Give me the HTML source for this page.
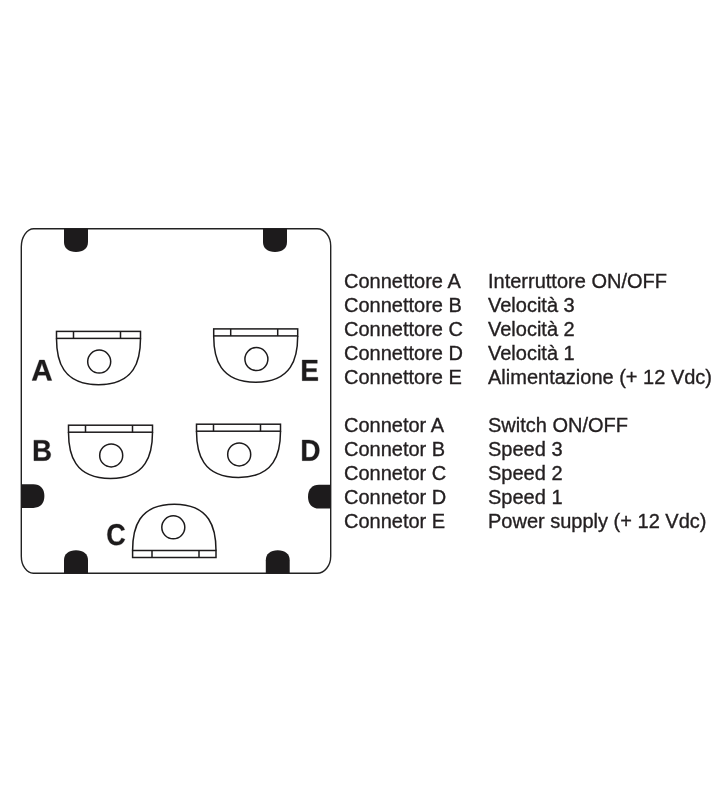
<!DOCTYPE html>
<html><head><meta charset="utf-8"><style>
html,body{margin:0;padding:0;background:#fff;width:728px;height:800px;overflow:hidden}
svg{display:block;will-change:transform}
</style></head><body>
<svg width="728" height="800" viewBox="0 0 728 800">
<path d="M21.3 246.8A12.5 18 0 0 1 33.8 228.8H317.09999999999997A13.6 17 0 0 1 330.7 245.8V556.2A13.6 17 0 0 1 317.09999999999997 573.2H33.3A12 17 0 0 1 21.3 556.2Z" fill="none" stroke="#222" stroke-width="1.4"/>
<g fill="#1d1b1c"><path d="M64 228.8V242C64 248.20 68.56 252 76.0 252C83.44 252 88 248.20 88 242V228.8Z"/><path d="M263 228.8V242C263 248.20 267.56 252 275.0 252C282.44 252 287 248.20 287 242V228.8Z"/><path d="M64 573.2V560.2C64 554.00 68.56 550.2 76.0 550.2C83.44 550.2 88 554.00 88 560.2V573.2Z"/><path d="M265.8 573.2V560.3C265.8 554.10 270.34 550.3 277.75 550.3C285.16 550.3 289.7 554.10 289.7 560.3V573.2Z"/><path d="M21.3 484.3H33.4C40.22 484.3 44.4 488.78 44.4 496.1C44.4 503.42 40.22 507.9 33.4 507.9H21.3Z"/><path d="M330.7 484.8H319C312.18 484.8 308 489.30 308 496.65C308 504.00 312.18 508.5 319 508.5H330.7Z"/></g>
<g fill="none" stroke="#1d1b1c" stroke-width="1.5"><rect x="56.5" y="331.4" width="84" height="7"/>
<path d="M73.5 331.4V338.4M120.5 331.4V338.4"/>
<path d="M56.5 338.4C56.5 360.62 62.38 384.7 98.5 384.7S140.5 360.62 140.5 338.4"/>
<circle cx="99.20" cy="361.60" r="11.5"/>
<rect x="213.7" y="328.9" width="84" height="7"/>
<path d="M230.7 328.9V335.9M277.7 328.9V335.9"/>
<path d="M213.7 335.9C213.7 358.12 219.58 382.2 255.7 382.2S297.7 358.12 297.7 335.9"/>
<circle cx="256.40" cy="359.10" r="11.5"/>
<rect x="68.5" y="425.2" width="84" height="7"/>
<path d="M85.5 425.2V432.2M132.5 425.2V432.2"/>
<path d="M68.5 432.2C68.5 454.42 74.38 478.5 110.5 478.5S152.5 454.42 152.5 432.2"/>
<circle cx="111.20" cy="455.40" r="11.5"/>
<rect x="196.5" y="424.2" width="84" height="7"/>
<path d="M213.5 424.2V431.2M260.5 424.2V431.2"/>
<path d="M196.5 431.2C196.5 453.42 202.38 477.5 238.5 477.5S280.5 453.42 280.5 431.2"/>
<circle cx="239.20" cy="454.40" r="11.5"/>
<rect x="132.6" y="550.5" width="83.4" height="7"/>
<path d="M199.0 557.5V550.5M152.0 557.5V550.5"/>
<path d="M132.6 550.5C132.6 528.28 138.44 504.2 174.3 504.2S216.0 528.28 216.0 550.5"/>
<circle cx="173.30" cy="527.30" r="11.5"/></g>
<g fill="#1d1b1c" stroke="#1d1b1c" stroke-width="0.3" vector-effect="non-scaling-stroke"><path vector-effect="non-scaling-stroke" transform="matrix(0.014439 0 0 -0.014512 31.26 380.45)" d="M1133 0 1008 360H471L346 0H51L565 1409H913L1425 0ZM739 1192 733 1170Q723 1134 709.0 1088.0Q695 1042 537 582H942L803 987L760 1123Z"/><path vector-effect="non-scaling-stroke" transform="matrix(0.013632 0 0 -0.014658 300.32 380.65)" d="M137 0V1409H1245V1181H432V827H1184V599H432V228H1286V0Z"/><path vector-effect="non-scaling-stroke" transform="matrix(0.013476 0 0 -0.014521 32.07 460.65)" d="M1386 402Q1386 210 1242.0 105.0Q1098 0 842 0H137V1409H782Q1040 1409 1172.5 1319.5Q1305 1230 1305 1055Q1305 935 1238.5 852.5Q1172 770 1036 741Q1207 721 1296.5 633.5Q1386 546 1386 402ZM1008 1015Q1008 1110 947.5 1150.0Q887 1190 768 1190H432V841H770Q895 841 951.5 884.5Q1008 928 1008 1015ZM1090 425Q1090 623 806 623H432V219H817Q959 219 1024.5 270.5Q1090 322 1090 425Z"/><path vector-effect="non-scaling-stroke" transform="matrix(0.013661 0 0 -0.014658 300.32 460.65)" d="M1393 715Q1393 497 1307.5 334.5Q1222 172 1065.5 86.0Q909 0 707 0H137V1409H647Q1003 1409 1198.0 1229.5Q1393 1050 1393 715ZM1096 715Q1096 942 978.0 1061.5Q860 1181 641 1181H432V228H682Q872 228 984.0 359.0Q1096 490 1096 715Z"/><path vector-effect="non-scaling-stroke" transform="matrix(0.013144 0 0 -0.014653 106.25 544.96)" d="M795 212Q1062 212 1166 480L1423 383Q1340 179 1179.5 79.5Q1019 -20 795 -20Q455 -20 269.5 172.5Q84 365 84 711Q84 1058 263.0 1244.0Q442 1430 782 1430Q1030 1430 1186.0 1330.5Q1342 1231 1405 1038L1145 967Q1112 1073 1015.5 1135.5Q919 1198 788 1198Q588 1198 484.5 1074.0Q381 950 381 711Q381 468 487.5 340.0Q594 212 795 212Z"/></g>
<g font-family="Liberation Sans" font-size="20" fill="#231f20" stroke="#231f20" stroke-width="0.35"><text x="344" y="288">Connettore A</text><text x="488" y="288">Interruttore ON/OFF</text><text x="344" y="312">Connettore B</text><text x="488" y="312">Velocità 3</text><text x="344" y="336">Connettore C</text><text x="488" y="336">Velocità 2</text><text x="344" y="360">Connettore D</text><text x="488" y="360">Velocità 1</text><text x="344" y="384">Connettore E</text><text x="488" y="384">Alimentazione (+ 12 Vdc)</text><text x="344" y="432">Connetor A</text><text x="488" y="432">Switch ON/OFF</text><text x="344" y="456">Connetor B</text><text x="488" y="456">Speed 3</text><text x="344" y="480">Connetor C</text><text x="488" y="480">Speed 2</text><text x="344" y="504">Connetor D</text><text x="488" y="504">Speed 1</text><text x="344" y="528">Connetor E</text><text x="488" y="528">Power supply (+ 12 Vdc)</text></g>
</svg>
</body></html>
